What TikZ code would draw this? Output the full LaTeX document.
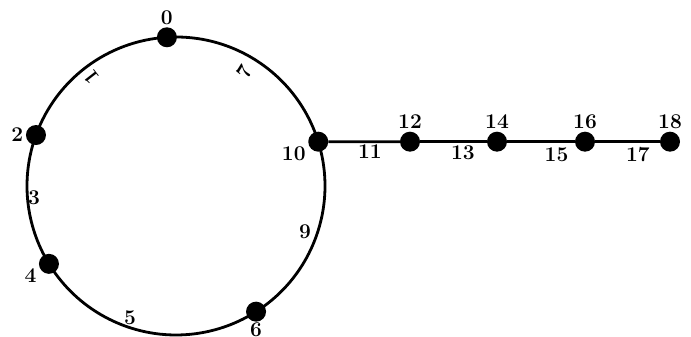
\documentclass[tikz,border=0pt]{standalone}
\usepackage{fontspec}
\usetikzlibrary{calc}
\tikzset{
  vert/.style={circle,fill=black,inner sep=0pt,minimum size=20pt},
  vlab/.style={font=\fontsize{21}{24}\selectfont\bfseries,inner sep=2.5pt},
  elab/.style={font=\fontsize{21}{24}\selectfont\bfseries,inner sep=0pt},
  edge/.style={draw=black,line width=2.8pt}
}
\begin{document}
\begin{tikzpicture}[x=1pt,y=1pt]
\useasboundingbox (0,0) rectangle (691,337);
\coordinate (c) at (176,151);
% cycle vertices
\node[vert,label={[vlab]above:0}] (v0) at ($(c)+(93.5:149)$) {};
\node[vert,label={[vlab]left:2}] (v2) at ($(c)+(160:149)$) {};
\node[vert,label={[vlab]194:4}] (v4) at ($(c)+(211.5:149)$) {};
\node[vert,label={[vlab,inner sep=0.5pt]below:6}] (v6) at ($(c)+(302.5:149)$) {};
\node[vert,label={[vlab]192:10}] (v10) at ($(c)+(17.3:149)$) {};
% tail
\node[vert,label={[vlab]above:12}] (v12) at (410,195.3) {};
\node[vert,label={[vlab]above:14}] (v14) at (497,195.3) {};
\node[vert,label={[vlab]above:16}] (v16) at (585,195.3) {};
\node[vert,label={[vlab]above:18}] (v18) at (670,195.3) {};
% cycle edges
\draw[edge] (v0) arc[start angle=93.5,end angle=160,radius=149];
\draw[edge] (v2) arc[start angle=160,end angle=211.5,radius=149];
\draw[edge] (v4) arc[start angle=211.5,end angle=302.5,radius=149];
\draw[edge] (v6) arc[start angle=302.5,end angle=377.3,radius=149];
\draw[edge] (v10) arc[start angle=17.3,end angle=93.5,radius=149];
\node[elab,rotate=128] (e1) at ($(c)+(127.9:138)$) {1};
\node[elab] (e3) at ($(c)+(184.8:142.5)$) {3};
\node[elab] (e5) at ($(c)+(250.8:139.8)$) {5};
\node[elab] (e9) at ($(c)+(340.4:137)$) {9};
\node[elab,rotate=59] (e7) at ($(c)+(58.8:133)$) {7};
% tail edges
\draw[edge] (v10) -- node[elab,pos=.58,below=1.5pt]{11} (v12);
\draw[edge] (v12) -- node[elab,pos=.64,below=2.5pt]{13} (v14);
\draw[edge] (v14) -- node[elab,pos=.73,below=4.5pt]{15} (v16);
\draw[edge] (v16) -- node[elab,pos=.66,below=4.5pt]{17} (v18);
\end{tikzpicture}
\end{document}
